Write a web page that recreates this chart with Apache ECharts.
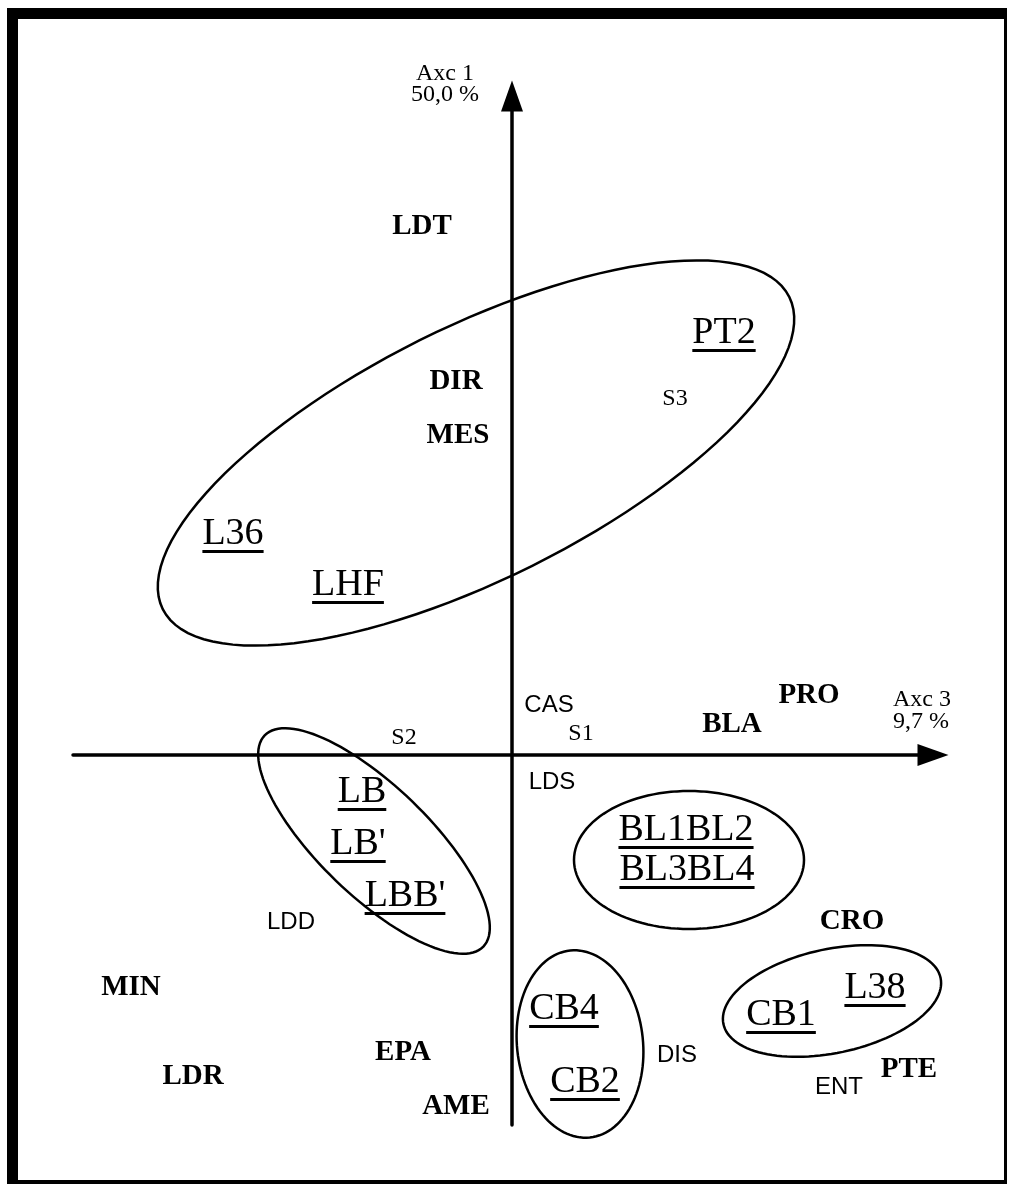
<!DOCTYPE html>
<html>
<head>
<meta charset="utf-8">
<title>Plan factoriel axes 1-3</title>
<script src="https://cdn.jsdelivr.net/npm/echarts@6/dist/echarts.min.js"></script>
<style>
  html, body { margin: 0; padding: 0; background: #fff; }
  #frame {
    position: absolute; left: 7px; top: 8px; width: 1000px; height: 1176px;
    box-sizing: border-box; border: solid #000; border-width: 11px 3px 4px 11px;
  }
  #chart { position: absolute; left: 0; top: 0; width: 1009px; height: 1186px; }
</style>
</head>
<body>
<div id="frame"></div>
<div id="chart"></div>
<script>
// Coordinates on the factorial plane (axis 3 horizontal, axis 1 vertical)
const boldNames = ["LDT", "DIR", "MES", "PRO", "BLA", "CRO", "MIN", "LDR", "EPA", "AME", "PTE"];
const boldPts = [
  [-0.9, 5.28], [-0.56, 3.73], [-0.54, 3.19], [2.97, 0.59], [2.2, 0.3], [3.4, -1.67],
  [-3.81, -2.33], [-3.19, -3.22], [-1.09, -2.98], [-0.56, -3.52], [3.97, -3.15],
];

const smallSerifNames = ["S3", "S1", "S2"];
const smallSerifPts = [[1.63, 3.56], [0.69, 0.21], [-1.08, 0.17]];

const smallSansNames = ["CAS", "LDS", "LDD", "DIS", "ENT"];
const smallSansPts = [[0.37, 0.5], [0.4, -0.27], [-2.21, -1.67], [1.65, -3.0], [3.27, -3.32]];

// underlined (group) labels
const groupNames = ["PT2", "L36", "LHF", "LB", "LB'", "LBB'", "BL1BL2", "BL3BL4", "CB4", "CB2", "CB1", "L38"];
const groupPts = [
  [2.12, 4.22], [-2.79, 2.21], [-1.64, 1.7], [-1.5, -0.37], [-1.54, -0.89], [-1.07, -1.41],
  [1.74, -0.75], [1.75, -1.15], [0.52, -2.54], [0.73, -3.27], [2.69, -2.6], [3.63, -2.33],
];

// ellipses: centre x, centre y, radius along x, radius along y, rotation (deg)
const ellipses = [
  [-0.36, 3.02, 3.5, 1.26, 26.5],
  [-1.38, -0.86, 1.52, 0.55, -44],
  [1.77, -1.05, 1.15, 0.69, 0],
  [0.68, -2.89, 0.63, 0.94, 6],
  [3.2, -2.46, 1.11, 0.52, 12],
];

// trailing blank lines lift the title above the axis line
const xName = "Axc 3\n9,7 %\n\n\n\n";
const yName = "Axc 1\n50,0 %";

const SERIF = '"Liberation Serif", "Times New Roman", serif';
const SANS = '"Liberation Sans", Arial, sans-serif';

const measureCtx = document.createElement("canvas").getContext("2d");
function textWidth(text, font) {
  measureCtx.font = font;
  return measureCtx.measureText(text).width;
}

function renderEllipse(params, api) {
  const cx = api.value(0), cy = api.value(1);
  const rx = api.value(2), ry = api.value(3);
  const t = (api.value(4) * Math.PI) / 180;
  const points = [];
  for (let i = 0; i < 120; i++) {
    const a = (i / 120) * 2 * Math.PI;
    const ex = rx * Math.cos(a), ey = ry * Math.sin(a);
    points.push(api.coord([
      cx + ex * Math.cos(t) - ey * Math.sin(t),
      cy + ex * Math.sin(t) + ey * Math.cos(t),
    ]));
  }
  return {
    type: "polygon",
    shape: { points: points },
    style: { fill: "none", stroke: "#000", lineWidth: 2.5 },
  };
}

// text centred on its point, optionally underlined
function labelSeries(names, pts, font, underline) {
  return {
    type: "custom",
    silent: true,
    encode: { x: 0, y: 1 },
    data: pts,
    renderItem: function (params, api) {
      const p = api.coord([api.value(0), api.value(1)]);
      const text = names[params.dataIndex];
      const children = [{
        type: "text",
        style: {
          text: text, x: p[0], y: p[1], font: font, fill: "#000",
          align: "center", verticalAlign: "middle",
        },
      }];
      if (underline) {
        const w = textWidth(text, font);
        children.push({
          type: "rect",
          shape: { x: p[0] - w / 2, y: p[1] + 16.1, width: w, height: 2.8 },
          style: { fill: "#000" },
        });
      }
      return { type: "group", children: children };
    },
  };
}

const axisLine = {
  show: true,
  onZero: true,
  symbol: ["none", "triangle"],
  symbolSize: [22, 31],
  lineStyle: { color: "#000", width: 3.5 },
};

const chart = echarts.init(document.getElementById("chart"));
chart.setOption({
  animation: false,
  backgroundColor: "transparent",
  grid: { left: 73, right: 76, top: 96, bottom: 61, containLabel: false },
  xAxis: {
    type: "value", min: -4.39, max: 4.21,
    name: xName, nameLocation: "end", nameGap: -40,
    nameTextStyle: {
      fontFamily: SERIF, fontSize: 24, lineHeight: 22, color: "#000",
      align: "left", verticalAlign: "middle",
    },
    axisLine: axisLine,
    axisTick: { show: false }, axisLabel: { show: false }, splitLine: { show: false },
  },
  yAxis: {
    type: "value", min: -3.7, max: 6.59,
    name: yName, nameLocation: "end", nameGap: 12,
    nameTextStyle: {
      fontFamily: SERIF, fontSize: 24, lineHeight: 21, color: "#000",
      align: "center", verticalAlign: "middle", padding: [0, 134, 0, 0],
    },
    axisLine: axisLine,
    axisTick: { show: false }, axisLabel: { show: false }, splitLine: { show: false },
  },
  series: [
    {
      type: "custom", silent: true, renderItem: renderEllipse,
      encode: { x: 0, y: 1 }, data: ellipses,
    },
    labelSeries(boldNames, boldPts, "bold 29px " + SERIF, false),
    labelSeries(smallSerifNames, smallSerifPts, "normal 24px " + SERIF, false),
    labelSeries(smallSansNames, smallSansPts, "normal 24px " + SANS, false),
    labelSeries(groupNames, groupPts, "normal 38px " + SERIF, true),
  ],
});
</script>
</body>
</html>
